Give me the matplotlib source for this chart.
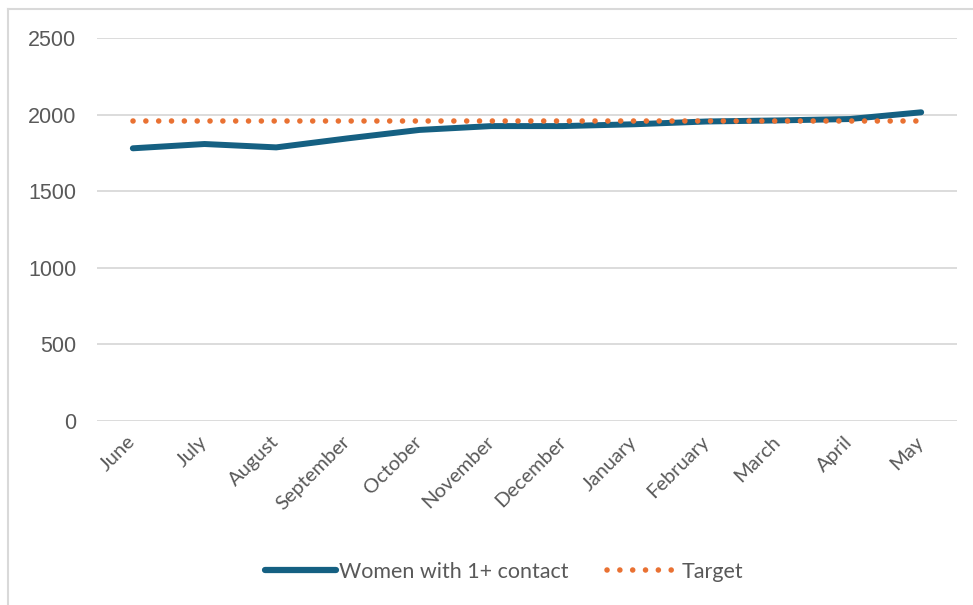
import matplotlib
matplotlib.use('Agg')
import matplotlib.pyplot as plt
from matplotlib.lines import Line2D

months = ['June', 'July', 'August', 'September', 'October', 'November',
          'December', 'January', 'February', 'March', 'April', 'May']
women_contact = [1780, 1808, 1786, 1845, 1900, 1925, 1925, 1937, 1955, 1962, 1971, 2015]
target = [1955] * 12

blue = '#156082'
orange = '#E97132'
grey_txt = '#595959'

fig = plt.figure(figsize=(9.73, 6.05), dpi=100)
ax = fig.add_axes([97/973, 1 - 421/605, 860/973, (421 - 38)/605])

x = list(range(len(months)))
ax.plot(x, women_contact, color=blue, lw=4.3, solid_capstyle='round', solid_joinstyle='round',
        label='Women with 1+ contact', zorder=3)
ax.plot(x, target, color=orange, lw=4.0, linestyle=(0, (0.01, 2.3)), dash_capstyle='round',
        label='Target', zorder=4)

ax.set_xlim(-0.5, 11.5)
ax.set_ylim(0, 2500)
ax.set_yticks([0, 500, 1000, 1500, 2000, 2500])
ax.yaxis.grid(True, color='#D9D9D9', lw=1.3)
ax.set_axisbelow(True)
for s in ax.spines.values():
    s.set_visible(False)
ax.tick_params(length=0)
ax.tick_params(axis='y', pad=15, labelsize=15.5, labelcolor=grey_txt)
ax.set_yticklabels(['0', '500', '1000', '1500', '2000', '2500'], family='Liberation Sans')

ax.set_xticks(x)
ax.set_xticklabels(months, rotation=45, ha='right', va='center', rotation_mode='anchor',
                   fontsize=14.5, color=grey_txt, family='Lato')
ax.tick_params(axis='x', pad=13)

handles = [Line2D([], [], color=blue, lw=4.5, solid_capstyle='round'),
           Line2D([], [], color=orange, lw=4.0, linestyle=(0, (0.01, 2.3)), dash_capstyle='round')]
leg = fig.legend(handles, ['Women with 1+ contact', 'Target'], loc='center',
                 bbox_to_anchor=(0.518, 1 - 572/605), ncol=2, frameon=False,
                 handlelength=3.3, handletextpad=0.15, columnspacing=1.8,
                 prop={'family': 'Lato', 'size': 15.5})
for t in leg.get_texts():
    t.set_color(grey_txt)

# chart border (top and left edges visible in the crop)
fig.add_artist(Line2D([8/973, 1], [1 - 9/605, 1 - 9/605], color='#D9D9D9', lw=1.5))
fig.add_artist(Line2D([8/973, 8/973], [0, 1 - 9/605], color='#D9D9D9', lw=1.5))

fig.savefig('out.png', dpi=100)
